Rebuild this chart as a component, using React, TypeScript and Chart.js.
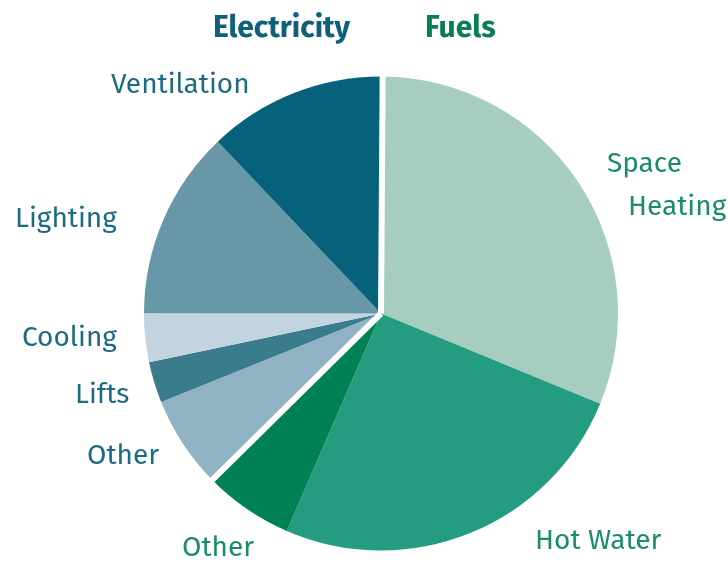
import React, { useEffect, useRef } from "react";
import { Chart, registerables } from "chart.js";

Chart.register(...registerables);

const categories = ["Space Heating", "Hot Water", "Other", "Other", "Lifts", "Cooling", "Lighting", "Ventilation"];
const groups = ["Fuels", "Fuels", "Fuels", "Electricity", "Electricity", "Electricity", "Electricity", "Electricity"];
const shares = [31.1, 25.3, 6.1, 6.3, 2.8, 3.3, 12.9, 12.2];
const sliceColors = ["#a6cdc0", "#239c7f", "#008055", "#8fb3c3", "#3a7b8c", "#c1d4df", "#6897a8", "#05627a"];

const ELEC_TEXT = "#1c6a83";
const FUEL_TEXT = "#1a8b6b";
const FONT = "'Fira Sans', 'Open Sans', sans-serif";

// label placement (left x, baseline y, lines)
const labelLayout: { lines: string[]; x: number[]; y: number[]; color: string }[] = [
  { lines: ["Space", "Heating"], x: [607, 628], y: [172, 215], color: FUEL_TEXT },
  { lines: ["Hot Water"], x: [535], y: [549], color: FUEL_TEXT },
  { lines: ["Other"], x: [182], y: [556], color: FUEL_TEXT },
  { lines: ["Other"], x: [87], y: [464], color: ELEC_TEXT },
  { lines: ["Lifts"], x: [75], y: [403], color: ELEC_TEXT },
  { lines: ["Cooling"], x: [22], y: [346], color: ELEC_TEXT },
  { lines: ["Lighting"], x: [15], y: [227], color: ELEC_TEXT },
  { lines: ["Ventilation"], x: [111], y: [93], color: ELEC_TEXT },
];

const gapPlugin = {
  id: "groupGaps",
  afterDatasetsDraw(chart: any) {
    const meta = chart.getDatasetMeta(0);
    const ctx = chart.ctx;
    ctx.save();
    ctx.strokeStyle = "#ffffff";
    ctx.lineWidth = 6;
    ctx.lineCap = "butt";
    for (let i = 0; i < groups.length; i++) {
      const prev = (i - 1 + groups.length) % groups.length;
      if (groups[i] !== groups[prev]) {
        const arc = meta.data[i];
        const a = arc.startAngle;
        const r = arc.outerRadius + 3;
        ctx.beginPath();
        ctx.moveTo(arc.x, arc.y);
        ctx.lineTo(arc.x + Math.cos(a) * r, arc.y + Math.sin(a) * r);
        ctx.stroke();
      }
    }
    ctx.restore();
  },
};

const textPlugin = {
  id: "textLabels",
  afterDraw(chart: any) {
    const ctx = chart.ctx;
    ctx.save();
    ctx.textBaseline = "alphabetic";
    ctx.textAlign = "left";
    ctx.font = `bold 30px ${FONT}`;
    ctx.fillStyle = "#0f6079";
    ctx.fillText("Electricity", 213, 37);
    ctx.fillStyle = "#0b7d52";
    ctx.fillText("Fuels", 425, 37);
    ctx.font = `28px ${FONT}`;
    labelLayout.forEach((l) => {
      ctx.fillStyle = l.color;
      l.lines.forEach((t, j) => ctx.fillText(t, l.x[j], l.y[j]));
    });
    ctx.restore();
  },
};

export default function App() {
  const ref = useRef<HTMLCanvasElement>(null);
  useEffect(() => {
    if (!ref.current) return;
    const chart = new Chart(ref.current, {
      type: "pie",
      data: {
        labels: categories,
        datasets: [
          {
            data: shares,
            backgroundColor: sliceColors,
            borderWidth: 0,
          },
        ],
      },
      options: {
        responsive: false,
        animation: false,
        rotation: 0.4,
        layout: { padding: { left: 144, right: 110, top: 76, bottom: 12 } },
        plugins: {
          legend: { display: false },
          tooltip: { enabled: false },
        },
      },
      plugins: [gapPlugin, textPlugin],
    });
    return () => chart.destroy();
  }, []);
  return (
    <div style={{ position: "absolute", left: 0, top: 0, width: 728, height: 563, background: "#fff" }}>
      <canvas ref={ref} width={728} height={563} style={{ display: "block" }} />
    </div>
  );
}
